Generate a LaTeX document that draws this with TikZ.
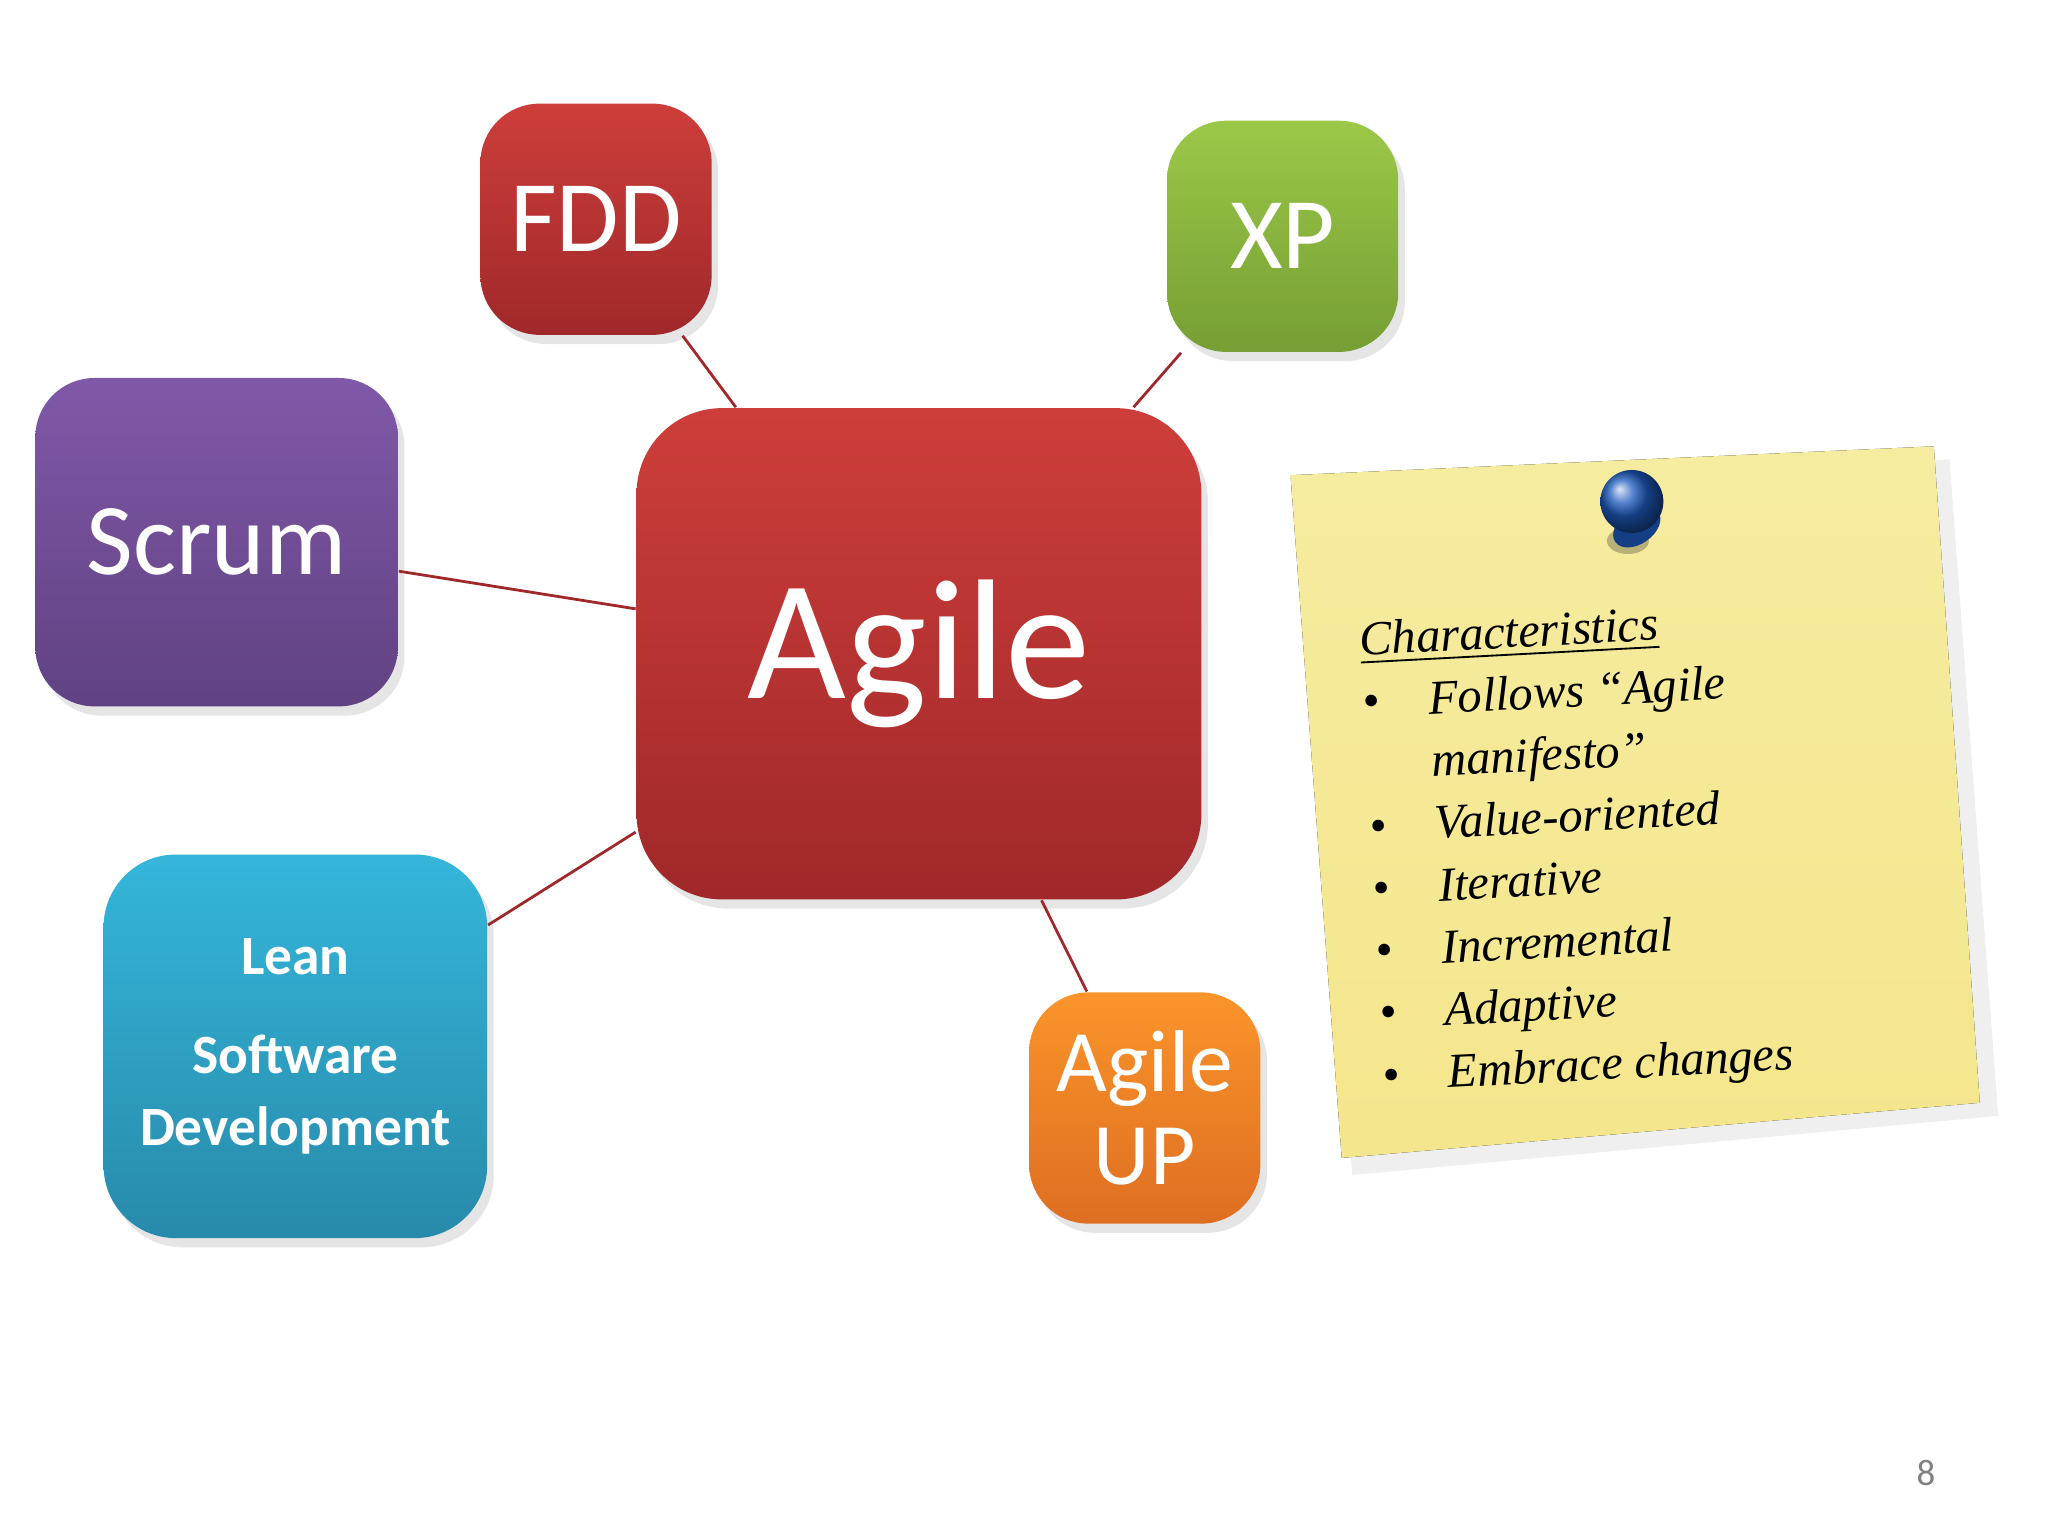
\documentclass[tikz,border=0pt]{standalone}
\usepackage{fontspec}
\setmainfont{Carlito}
\newfontfamily\hand{Liberation Serif}
\usetikzlibrary{shadows}
\definecolor{rtop}{RGB}{205,62,58}\definecolor{rbot}{RGB}{160,40,42}
\definecolor{gtop}{RGB}{155,200,72}\definecolor{gbot}{RGB}{118,158,52}
\definecolor{ptop}{RGB}{128,88,168}\definecolor{pbot}{RGB}{96,66,130}
\definecolor{ctop}{RGB}{52,182,218}\definecolor{cbot}{RGB}{40,138,170}
\definecolor{otop}{RGB}{250,148,42}\definecolor{obot}{RGB}{222,110,34}
\definecolor{ytop}{RGB}{246,236,160}\definecolor{ybot}{RGB}{244,230,140}
\definecolor{pinc}{RGB}{30,90,190}
\begin{document}
\begin{tikzpicture}[x=0.01cm,y=-0.01cm,
  box/.style={rounded corners=0.45cm,text=white,align=center,inner sep=0pt,
    drop shadow={opacity=0.2,shadow xshift=0.05cm,shadow yshift=-0.07cm}},
  link/.style={draw=rbot,line width=0.6pt}]
\useasboundingbox[fill=white] (0,0) rectangle (1560,1170);
\node[box,top color=rtop,bottom color=rbot,minimum width=1.76cm,minimum height=1.76cm,font=\fontsize{22}{26}\selectfont] (fdd) at (454,167) {FDD};
\node[box,top color=gtop,bottom color=gbot,minimum width=1.76cm,minimum height=1.76cm,font=\fontsize{22}{26}\selectfont] (xp) at (977,180) {XP};
\node[box,top color=ptop,bottom color=pbot,minimum width=2.76cm,minimum height=2.5cm,font=\fontsize{22}{26}\selectfont] (scrum) at (165,413) {Scrum};
\node[box,rounded corners=0.65cm,top color=rtop,bottom color=rbot,minimum width=4.3cm,minimum height=3.74cm,font=\fontsize{37}{44}\selectfont] (agile) at (700,498) {Agile};
\node[box,rounded corners=0.55cm,top color=ctop,bottom color=cbot,minimum width=2.92cm,minimum height=2.92cm,font=\fontsize{12}{15.5}\selectfont\bfseries] (lean) at (225,797) {Lean\\[6pt]Software\\Development};
\node[box,top color=otop,bottom color=obot,minimum width=1.76cm,minimum height=1.76cm,font=\fontsize{19}{20}\selectfont] (up) at (872,844) {Agile\\UP};
\draw[link] (fdd) -- (agile);
\draw[link] (xp) -- (agile);
\draw[link] (scrum) -- (agile);
\draw[link] (lean) -- (agile);
\draw[link] (up) -- (agile);
% sticky note
\fill[black!12,opacity=0.5] (995,372) -- (1485,350) -- (1522,850) -- (1030,895) -- cycle;
\fill[top color=ytop,bottom color=ybot] (983,362) -- (1473,340) -- (1508,840) -- (1022,882) -- cycle;
\node[coordinate] (pin) at (1243,382) {};
\fill[black,opacity=0.25] (1240,412) ellipse (0.16cm and 0.1cm);
\fill[pinc!70!black,rotate around={35:(1243,382)}] (1235,400) ellipse (0.2cm and 0.13cm);
\shade[ball color=pinc] (pin) circle (0.24cm);
\node[rotate=3,anchor=north west,align=left,font=\hand\itshape\fontsize{10.5}{13.5}\selectfont] (chars) at (1022,462) {\underline{Characteristics}\\
\textbullet\quad Follows “Agile\\ \phantom{\textbullet}\quad manifesto”\\
\textbullet\quad Value-oriented\\
\textbullet\quad Iterative\\
\textbullet\quad Incremental\\
\textbullet\quad Adaptive\\
\textbullet\quad Embrace changes};
\node[text=gray,font=\fontsize{8}{10}\selectfont] (pg) at (1467,1122) {8};
\end{tikzpicture}
\end{document}
